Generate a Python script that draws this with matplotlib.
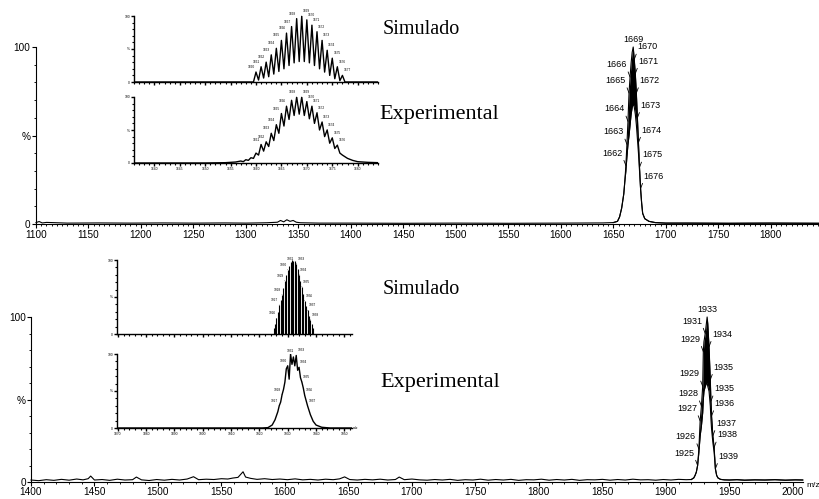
import matplotlib.pyplot as plt
from matplotlib.ticker import MultipleLocator, FormatStrFormatter

plt.rcParams['font.family'] = ['Liberation Sans', 'DejaVu Sans']

# =================================================
# Data (m/z, relative intensity %)
# =================================================
# --- upper spectrum, baseline + isotope cluster (upper / lower envelope)
top_base_mz = [1100, 1103, 1106, 1110, 1130, 1160, 1190, 1220, 1250, 1280, 1300, 1320, 1330, 1333,
               1336, 1339, 1342, 1345, 1348, 1352, 1370, 1400, 1450, 1500, 1550, 1600, 1640]
top_base_y = [0.8, 1.4, 0.6, 0.9, 0.5, 0.6, 0.5, 0.6, 0.5, 0.6, 0.5, 0.7, 1.0, 2.0,
              1.2, 2.4, 1.5, 2.0, 1.0, 0.7, 0.5, 0.5, 0.4, 0.5, 0.4, 0.5, 0.6]
top_pk_mz = [1650, 1654, 1656, 1658, 1660, 1661, 1662, 1663, 1664, 1665, 1666, 1667, 1668, 1669, 1670,
             1671, 1672, 1673, 1674, 1675, 1676, 1677, 1678, 1680, 1684, 1690, 1700, 1720, 1760, 1800, 1846]
top_pk_hi = [0.8, 1.5, 4, 9, 17, 24, 33, 45, 58, 74, 83, 91, 97, 100, 93,
             85, 74, 60, 46, 32, 20, 12, 6, 3, 1.5, 0.8, 0.5, 0.5, 0.4, 0.5, 0.4]
top_pk_lo = [0.8, 1.5, 4, 9, 17, 24, 30, 38, 45, 50, 56, 62, 66, 68, 66,
             62, 56, 48, 40, 30, 20, 12, 6, 3, 1.5, 0.8, 0.5, 0.5, 0.4, 0.5, 0.4]
top_lab_mz = [1662, 1663, 1664, 1665, 1666, 1669, 1670, 1671, 1672, 1673, 1674, 1675, 1676]
top_lab_side = ['L', 'L', 'L', 'L', 'L', 'T', 'R', 'R', 'R', 'R', 'R', 'R', 'R']

# --- upper insets: simulated / experimental isotope pattern
sim1_mz = [1660, 1661, 1662, 1663, 1664, 1665, 1666, 1667, 1668,
           1669, 1670, 1671, 1672, 1673, 1674, 1675, 1676, 1677]
sim1_pk = [15, 23, 30, 41, 51, 63, 74, 84, 96, 100, 94, 86, 76, 63, 48, 36, 23, 10]
sim1_valley = [3, 6, 8, 12, 16, 20, 25, 29, 31, 31, 29, 25, 20, 15, 10, 5, 2]
sim1_side = ['L'] * 8 + ['L', 'R'] + ['R'] * 8

exp1_mz = [1634, 1650, 1654, 1656, 1657, 1657.5, 1658, 1658.5, 1659, 1659.5, 1660, 1660.5, 1661, 1661.5,
           1662, 1662.5, 1663, 1663.5, 1664, 1664.5, 1665, 1665.5, 1666, 1666.5, 1667, 1667.5, 1668,
           1668.5, 1669, 1669.5, 1670, 1670.5, 1671, 1671.5, 1672, 1672.5, 1673, 1673.5, 1674, 1674.5,
           1675, 1675.5, 1676, 1676.5, 1677, 1678, 1679, 1680, 1682, 1686]
exp1_y = [0, 0, 0.5, 1.5, 3, 2, 5, 4, 8, 7, 15, 12, 28, 18,
          32, 25, 45, 34, 58, 45, 75, 56, 86, 66, 95, 72, 100,
          74, 100, 72, 93, 67, 86, 60, 76, 50, 62, 40, 50, 30,
          38, 22, 27, 15, 12, 7, 4, 2, 1, 0]
exp1_lab = [1661, 1662, 1663, 1664, 1665, 1666, 1668, 1669, 1670, 1671, 1672, 1673, 1674, 1675, 1676]
exp1_side = ['L', 'L', 'L', 'L', 'L', 'L', 'L', 'R', 'R', 'R', 'R', 'R', 'R', 'R', 'R']

# --- lower spectrum
bot_base_mz = [1400, 1406, 1412, 1418, 1424, 1430, 1436, 1441, 1445, 1447,
               1450, 1456, 1462, 1468, 1474, 1480, 1483, 1487, 1493, 1499,
               1505, 1511, 1517, 1523, 1528, 1532, 1538, 1544, 1550, 1555,
               1559, 1563, 1565, 1567, 1569, 1573, 1578, 1584, 1590, 1596,
               1602, 1608, 1614, 1620, 1626, 1632, 1638, 1643, 1647, 1651,
               1657, 1663, 1669, 1675, 1681, 1687, 1690, 1694, 1700, 1706,
               1712, 1718, 1724, 1730, 1736, 1742, 1748, 1754, 1760, 1766,
               1772, 1778, 1784, 1790, 1796, 1802, 1808, 1814, 1820, 1826,
               1832, 1838, 1844, 1850, 1856, 1862, 1868, 1874, 1880, 1886,
               1892, 1898, 1904, 1910, 1916]
bot_base_y = [1.2, 0.8, 1.4, 1.0, 1.6, 1.1, 1.8, 1.3, 2.0, 3.6,
              1.2, 1.5, 1.0, 1.7, 1.2, 1.4, 3.0, 1.3, 0.9, 1.5,
              1.1, 1.6, 1.2, 1.8, 3.2, 1.4, 1.7, 1.5, 2.0, 1.8,
              2.4, 2.8, 4.5, 6.2, 3.0, 2.2, 1.6, 2.0, 1.5, 1.8,
              1.4, 1.9, 1.3, 1.6, 1.2, 1.7, 1.4, 1.9, 3.1, 1.5,
              1.2, 1.6, 1.3, 1.7, 1.2, 1.5, 3.0, 1.4, 1.8, 1.3,
              1.1, 1.5, 1.2, 1.6, 1.0, 1.4, 1.2, 1.7, 1.1, 1.5,
              1.2, 1.6, 1.0, 1.4, 1.3, 1.7, 1.1, 1.5, 1.2, 1.6,
              1.0, 1.4, 1.3, 1.6, 1.1, 1.5, 1.2, 1.7, 1.3, 1.4,
              1.1, 1.5, 1.2, 1.6, 1.4]
bot_pk_mz = [1920, 1922, 1923, 1924, 1925, 1926, 1927, 1928, 1929, 1929.5, 1930, 1931, 1932, 1932.5,
             1933, 1934, 1935, 1935.5, 1936, 1937, 1938, 1939, 1940, 1941, 1943, 1946, 1950, 1956,
             1962, 1970, 1978, 1986, 1994, 2002, 2008]
bot_pk_hi = [1.5, 2.5, 4, 6, 10, 20, 37, 46, 58, 79, 85, 90, 97, 100,
             96, 82, 62, 49, 40, 28, 21, 8, 4, 2.5, 1.6, 1.3, 1.2, 1.4,
             1.1, 1.3, 1.2, 1.4, 1.1, 1.3, 1.2]
bot_pk_lo = [1.5, 2.5, 4, 6, 10, 18, 28, 34, 42, 50, 55, 58, 60, 60,
             58, 55, 46, 38, 32, 24, 18, 8, 4, 2.5, 1.6, 1.3, 1.2, 1.4,
             1.1, 1.3, 1.2, 1.4, 1.1, 1.3, 1.2]
bot_lab_mz = [1925, 1926, 1927, 1928, 1929, 1929.5, 1931, 1932.5,
              1934, 1935, 1935.5, 1936, 1937, 1938, 1939]
bot_lab_txt = ['1925', '1926', '1927', '1928', '1929', '1929', '1931', '1933',
               '1934', '1935', '1935', '1936', '1937', '1938', '1939']
bot_lab_side = ['L'] * 7 + ['T'] + ['R'] * 7

# --- lower insets
sim2_mz = [1925, 1925.5, 1926, 1926.5, 1927, 1927.5, 1928, 1928.5, 1929, 1929.5, 1930, 1930.5,
           1931, 1931.5, 1932, 1932.5, 1933, 1933.5, 1934, 1934.5, 1935, 1935.5, 1936, 1936.5,
           1937, 1937.5, 1938, 1938.5, 1939]
sim2_y = [8, 14, 21, 30, 39, 46, 53, 62, 72, 80, 87, 92,
          97, 100, 99, 98, 95, 88, 80, 72, 64, 54, 45, 38,
          32, 25, 19, 13, 8]
sim2_lab = [1926, 1927, 1928, 1929, 1930, 1931, 1933, 1934, 1935, 1936, 1937, 1938]
sim2_side = ['L', 'L', 'L', 'L', 'L', 'T', 'R', 'R', 'R', 'R', 'R', 'R']

exp2_mz = [1869, 1921, 1923, 1924.5, 1925.5, 1926.5, 1927, 1927.5, 1928, 1928.5, 1929, 1929.5,
           1930, 1930.5, 1931, 1931.5, 1932, 1932.5, 1933, 1933.5, 1934, 1934.5, 1935, 1935.5,
           1936, 1937, 1938, 1939, 1940, 1942, 1945, 1954]
exp2_y = [0, 0, 0.5, 4, 11, 22, 30, 35, 45, 52, 62, 80,
          84, 66, 100, 86, 96, 84, 98, 78, 82, 68, 62, 54,
          44, 30, 18, 9, 4, 1, 0, 0]
exp2_lab = [1927, 1928, 1930, 1931, 1933, 1934, 1935, 1936, 1937]
exp2_side = ['L', 'L', 'L', 'T', 'R', 'R', 'R', 'R', 'R']

# =================================================
# Figure
# =================================================
fig = plt.figure(figsize=(8.19, 4.99), dpi=100)


def ms_axes(rect, xlim, major, minor, fs, lw, tl, pad, xlabels=True):
    ax = fig.add_axes(rect)
    ax.patch.set_alpha(0)
    ax.set_xlim(xlim)
    ax.set_ylim(0, 100)
    ax.spines[['top', 'right']].set_visible(False)
    ax.spines[['left', 'bottom']].set_linewidth(lw)
    ax.xaxis.set_major_locator(MultipleLocator(major))
    ax.xaxis.set_minor_locator(MultipleLocator(minor))
    ax.xaxis.set_major_formatter(FormatStrFormatter('%d'))
    ax.set_yticks([0, 50, 100], ['0', '%', '100'])
    ax.yaxis.set_minor_locator(MultipleLocator(10))
    ax.tick_params(which='major', labelsize=fs, width=lw, length=tl, pad=pad)
    ax.tick_params(which='minor', width=lw * 0.8, length=tl * 0.6)
    if not xlabels:
        ax.tick_params(axis='x', labelbottom=False)
    return ax


def tag(ax, xs, ys, texts, sides, fs, dx, dy, lw):
    for x, y, t, s in zip(xs, ys, texts, sides):
        if s == 'T':
            ax.annotate(t, (x, y), xytext=(0, dy * 0.4), textcoords='offset pixels',
                        ha='center', va='bottom', fontsize=fs, annotation_clip=False)
            continue
        left = s == 'L'
        ax.annotate(t, (x, y), xytext=(-dx if left else dx, dy), textcoords='offset pixels',
                    ha='right' if left else 'left', va='bottom', fontsize=fs,
                    annotation_clip=False,
                    arrowprops=dict(arrowstyle='-', lw=lw, color='black', shrinkA=0, shrinkB=0,
                                    relpos=(1, 0) if left else (0, 0)))


# ---------- upper main spectrum
ax1 = ms_axes([36 / 819, 275 / 499, 783 / 819, 177 / 499], (1100, 1846), 50, 5, 7.2, 0.8, 3, 1.0)
ax1.plot(top_base_mz + top_pk_mz, top_base_y + top_pk_hi, color='black', lw=0.8, clip_on=False)
ax1.plot(top_pk_mz, top_pk_lo, color='black', lw=0.8)
ax1.fill_between(top_pk_mz, top_pk_lo, top_pk_hi, color='black', lw=0)
h = dict(zip(top_pk_mz, top_pk_hi))
tag(ax1, top_lab_mz, [h[m] for m in top_lab_mz], [str(m) for m in top_lab_mz],
    top_lab_side, 6.5, 3, 8, 0.6)

# ---------- lower main spectrum
ax2 = ms_axes([31 / 819, 17 / 499, 772 / 819, 165 / 499], (1400, 2008), 50, 10, 7.2, 0.8, 3, 0.6)
ax2.plot(bot_base_mz + bot_pk_mz, bot_base_y + bot_pk_hi, color='black', lw=0.8, clip_on=False)
ax2.plot(bot_pk_mz, bot_pk_lo, color='black', lw=0.8)
ax2.fill_between(bot_pk_mz, bot_pk_lo, bot_pk_hi, color='black', lw=0)
h = dict(zip(bot_pk_mz, bot_pk_hi))
tag(ax2, bot_lab_mz, [h[m] for m in bot_lab_mz], bot_lab_txt, bot_lab_side, 6.5, 3, 8, 0.6)
ax2.text(1.004, -0.02, 'm/z', transform=ax2.transAxes, ha='left', va='center', fontsize=6)

# ---------- upper insets
ins1 = ms_axes([134 / 819, 417 / 499, 244 / 819, 66 / 499], (1636, 1684), 5, 1, 2.4, 1.0, 2, 0.8,
               xlabels=False)
sx, sy = [1636, 1659.5], [0, 0]
for i, (m, v) in enumerate(zip(sim1_mz, sim1_pk)):
    sx.append(m)
    sy.append(v)
    if i < len(sim1_valley):
        sx.append(m + 0.5)
        sy.append(sim1_valley[i])
sx += [1677.5, 1684]
sy += [0, 0]
ins1.plot(sx, sy, color='black', lw=1.0)
tag(ins1, sim1_mz, sim1_pk, [str(m) for m in sim1_mz], sim1_side, 2.3, 1, 3, 0.4)

ins2 = ms_axes([134 / 819, 336 / 499, 244 / 819, 66 / 499], (1636, 1684), 5, 1, 2.4, 1.0, 2, 0.8)
ins2.plot(exp1_mz, exp1_y, color='black', lw=1.0)
h = dict(zip(exp1_mz, exp1_y))
tag(ins2, exp1_lab, [h[m] for m in exp1_lab], [str(m) for m in exp1_lab], exp1_side, 2.3, 1, 3, 0.4)

# ---------- lower insets
ins3 = ms_axes([117 / 819, 165 / 499, 235 / 819, 74 / 499], (1869.7, 1952.7), 10, 2, 2.4, 1.0, 2, 0.8,
               xlabels=False)
ins3.vlines(sim2_mz, 0, sim2_y, color='black', lw=0.8)
h = dict(zip(sim2_mz, sim2_y))
tag(ins3, sim2_lab, [h[m] for m in sim2_lab], [str(m) for m in sim2_lab], sim2_side, 2.3, 1, 3, 0.4)

ins4 = ms_axes([117 / 819, 71 / 499, 235 / 819, 74 / 499], (1869.7, 1952.7), 10, 2, 2.4, 1.0, 2, 0.8)
ins4.plot(exp2_mz, exp2_y, color='black', lw=1.0)
h = dict(zip(exp2_mz, exp2_y))
tag(ins4, exp2_lab, [h[m] for m in exp2_lab], [str(m) for m in exp2_lab], exp2_side, 2.3, 1, 3, 0.4)
ins4.text(1.005, 0, 'm/z', transform=ins4.transAxes, ha='left', va='center', fontsize=2.4)

# ---------- panel titles
serif = ['Liberation Serif', 'DejaVu Serif']
fig.text(383 / 819, 1 - 30 / 499, 'Simulado', family=serif, fontsize=14.5, va='center')
fig.text(379 / 819, 1 - 115 / 499, 'Experimental', family=serif, fontsize=16, va='center')
fig.text(383 / 819, 1 - 290 / 499, 'Simulado', family=serif, fontsize=14.5, va='center')
fig.text(380 / 819, 1 - 383 / 499, 'Experimental', family=serif, fontsize=16, va='center')

fig.savefig('out.png', dpi=100)
